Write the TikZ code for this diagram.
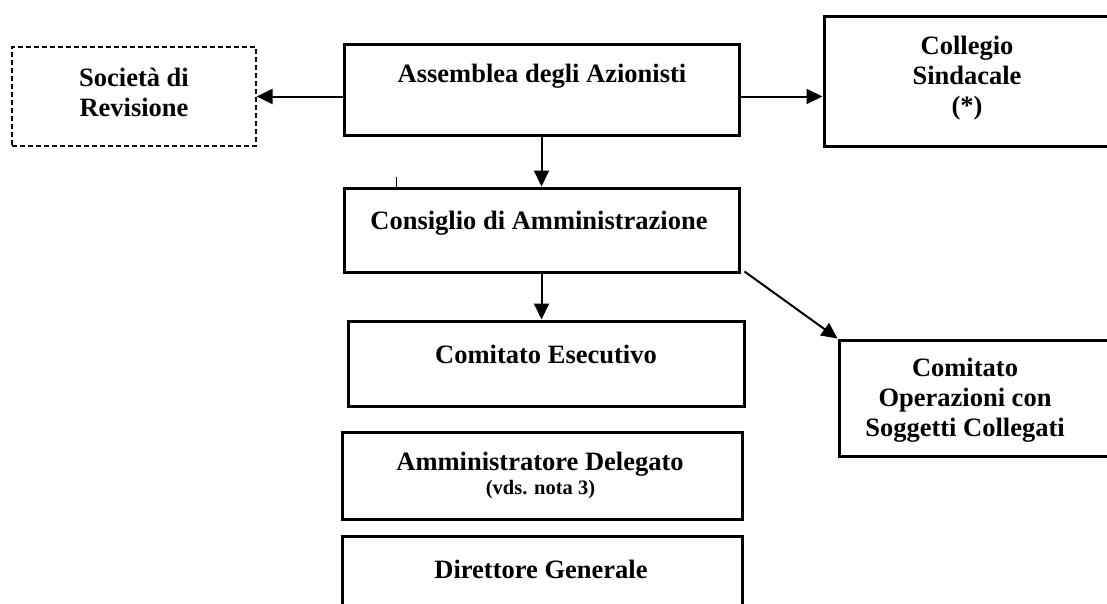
\documentclass[tikz,border=0pt]{standalone}
\usepackage{fontspec}
\setmainfont{Liberation Serif}
\usetikzlibrary{arrows.meta}
\tikzset{
  boxnode/.style={draw=black, line width=3pt, minimum width=#1, inner sep=0pt},
  dashbox/.style={draw=black, line width=1.2pt, dash pattern=on 5pt off 3pt, inner sep=0pt},
  txt/.style={align=center, font=\fontsize{26.5}{30}\selectfont\bfseries, inner sep=0pt},
  arr/.style={line width=2pt, -{Triangle[length=16pt,width=15pt]}},
  tickline/.style={line width=1.6pt}
}
\begin{document}
\begin{tikzpicture}[x=1pt,y=-1pt]
\useasboundingbox (0,0) rectangle (1107,603);
\clip (0,0) rectangle (1107,603);
% boxes
\node[dashbox, minimum width=244pt, minimum height=99pt] (soc) at (134,96.5) {};
\node[boxnode=395pt, minimum height=91pt] (ass) at (541.5,89.5) {};
\node[boxnode=306pt, minimum height=130pt] (col) at (977,81) {};
\node[boxnode=395pt, minimum height=84pt] (con) at (541.5,230) {};
\node[boxnode=396pt, minimum height=85pt] (ce) at (546,363.5) {};
\node[boxnode=291pt, minimum height=116pt] (cosc) at (984.5,398) {};
\node[boxnode=400pt, minimum height=87pt] (ad) at (542,475.5) {};
\node[boxnode=400pt, minimum height=84pt] (dg) at (542,578) {};
% texts
\node[txt] (tsoc) at (134,92) {Società di\\Revisione};
\node[txt] (tass) at (542,76) {Assemblea degli Azionisti};
\node[txt] (tcol) at (967,78) {Collegio\\Sindacale\\(*)};
\node[txt] (tcon) at (539,223) {Consiglio di Amministrazione};
\node[txt] (tce) at (546,354) {Comitato Esecutivo};
\node[txt] (tcosc) at (965,400) {Comitato\\Operazioni con\\Soggetti Collegati};
\node[txt] (tad) at (540,464) {Amministratore Delegato};
\node[txt, font=\fontsize{20.5}{24}\selectfont\bfseries] (tadn) at (540.5,490) {(vds. nota 3)};
\node[txt] (tdg) at (541,569) {Direttore Generale};
% connectors
\draw[arr] (ass.west |- soc.east) -- (soc.east);
\draw[arr] (ass.east |- soc.east) -- (col.west |- soc.east);
\draw[arr] (ass.south) -- (ass.south |- con.north);
\draw[arr] (con.south) -- (con.south |- ce.north);
\draw[arr] ([shift={(4pt,2pt)}]con.south east) -- (cosc.north west);
\coordinate (tick) at ([xshift=54pt]con.north west);
\draw[tickline] (tick) -- ++(0,-10);
\end{tikzpicture}
\end{document}
